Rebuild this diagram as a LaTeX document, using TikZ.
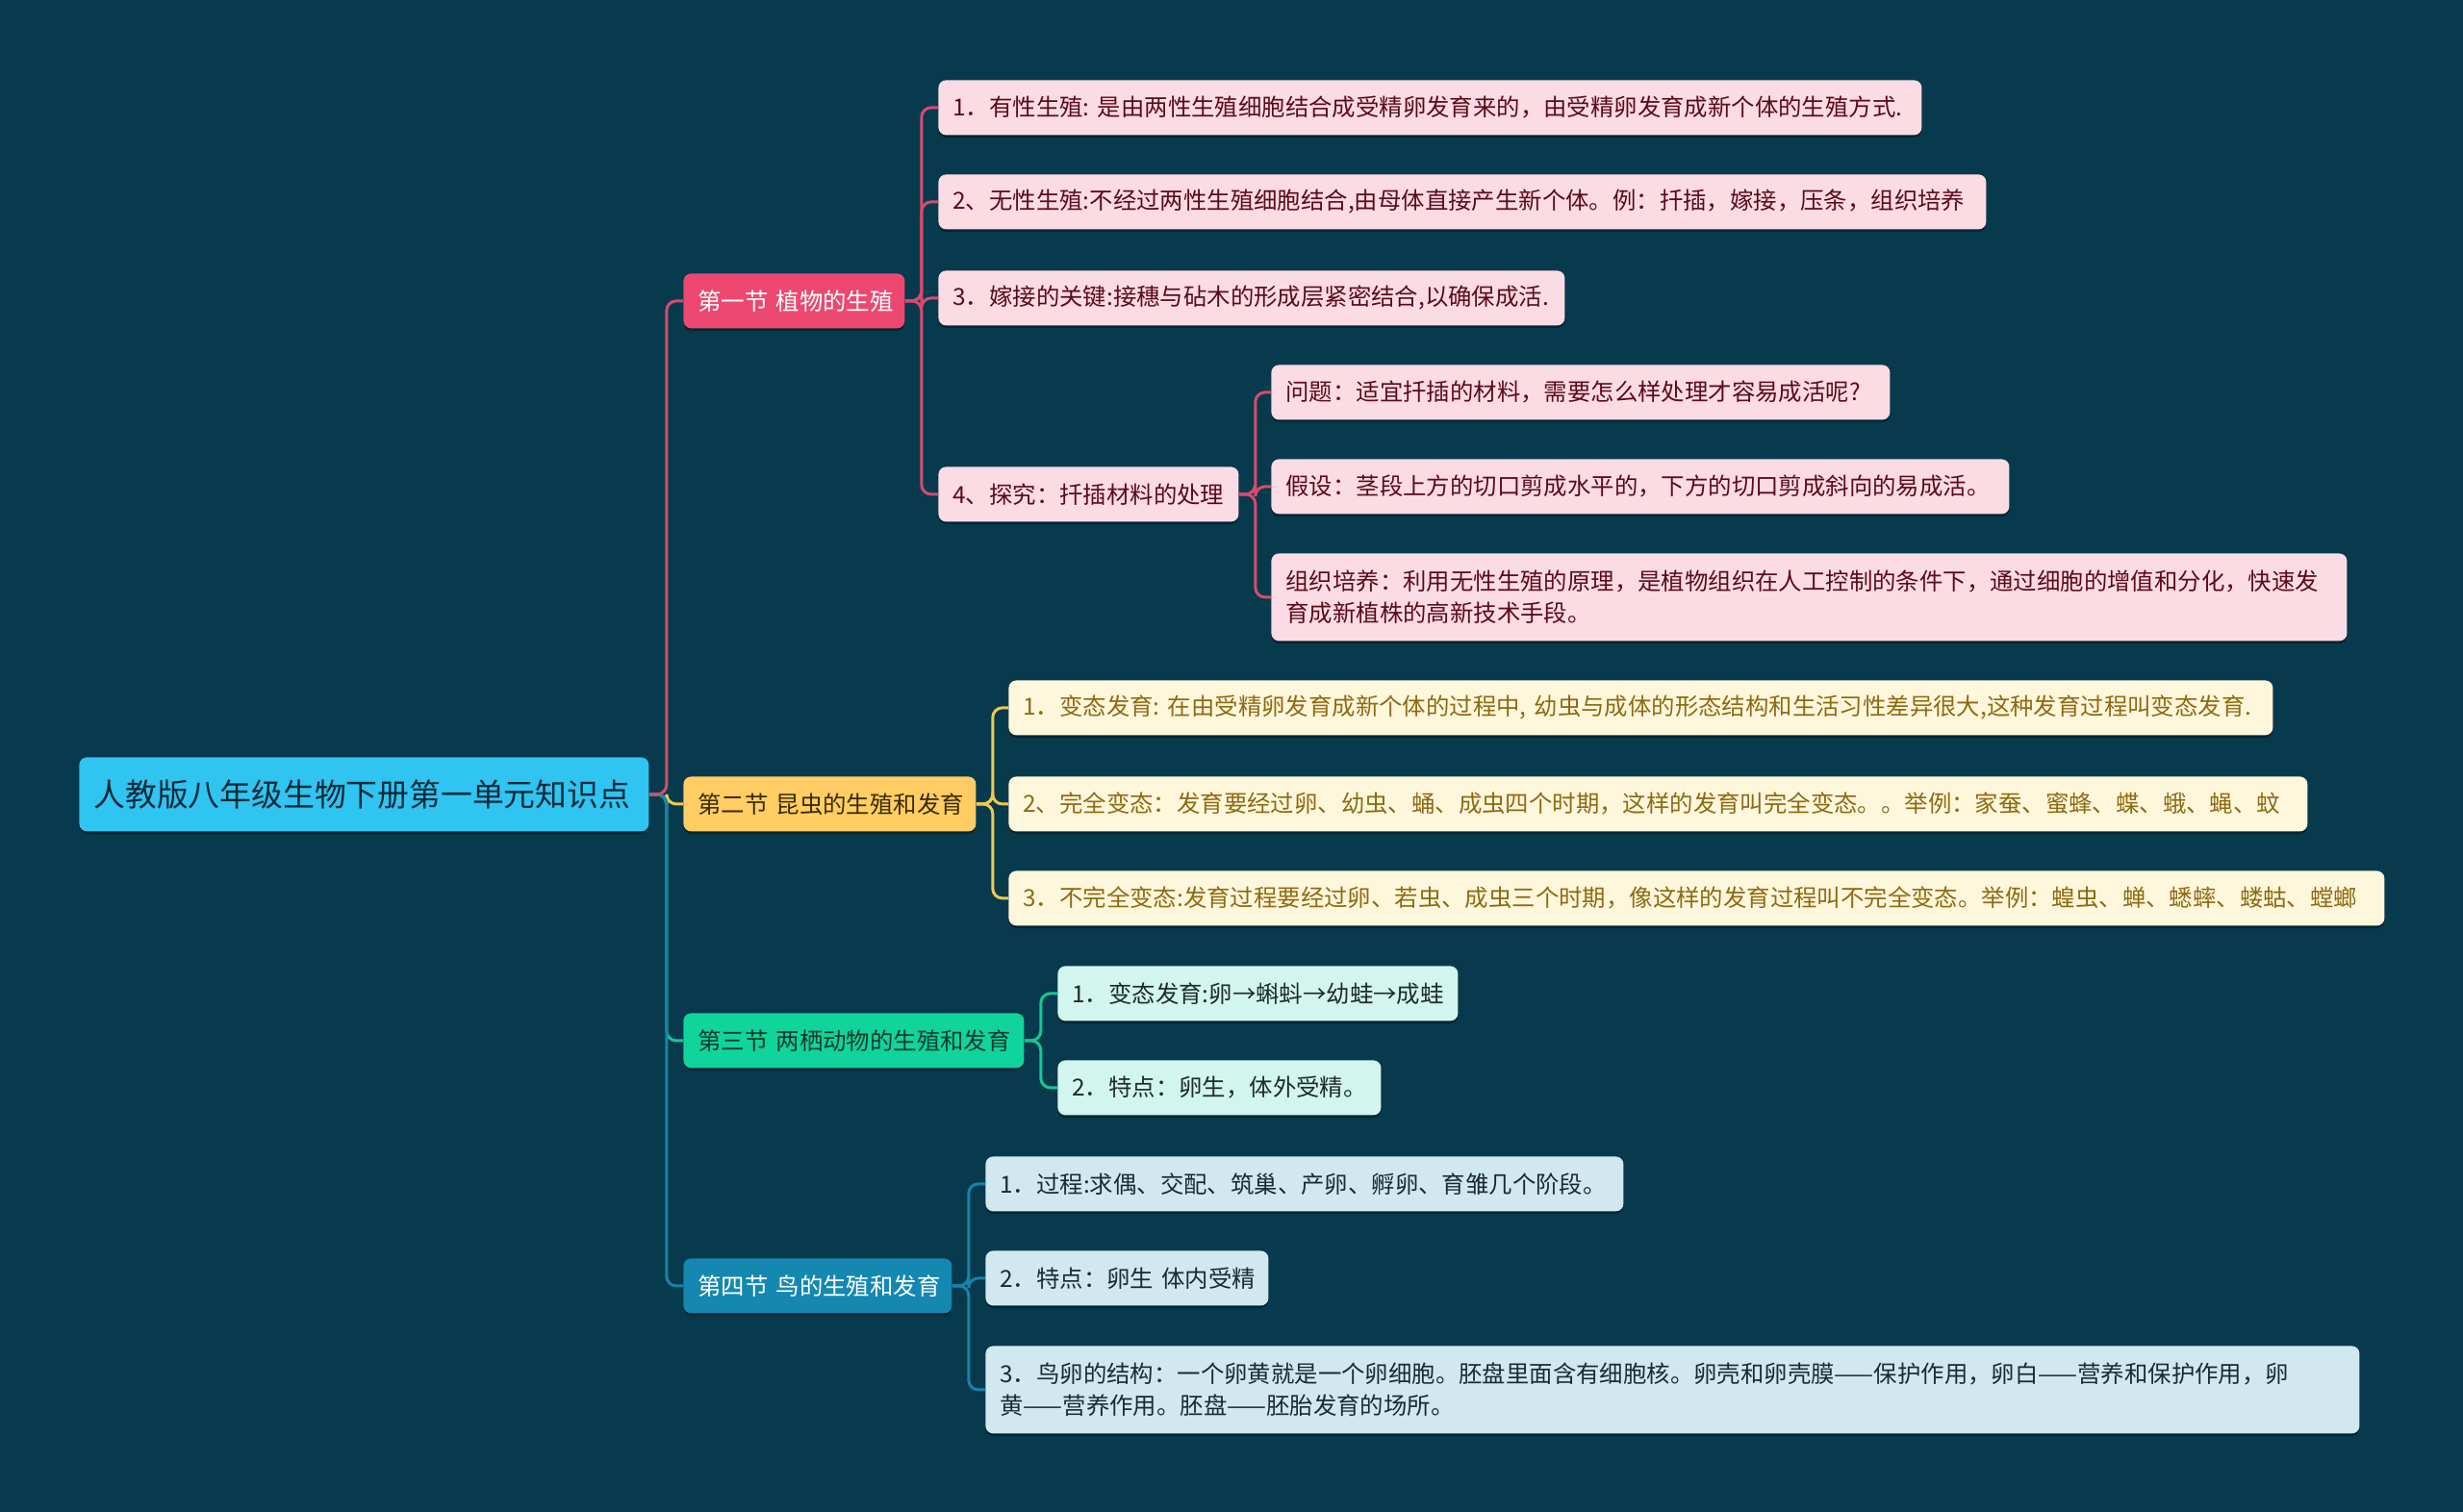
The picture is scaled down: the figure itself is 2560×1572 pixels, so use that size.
\documentclass[tikz,border=0pt]{standalone}
\usepackage{fontspec}
\setmainfont{Noto Sans CJK SC}
\usetikzlibrary{shadows}
\definecolor{bg}{HTML}{083A4E}
\definecolor{rootfill}{HTML}{30C4F0}
\definecolor{roottext}{HTML}{0C2A3A}
\definecolor{pinkA}{HTML}{EC4870}
\definecolor{pinkB}{HTML}{FBDCE4}
\definecolor{pinkT}{HTML}{5C0A1A}
\definecolor{pinkL}{HTML}{D84A6E}
\definecolor{yelA}{HTML}{FFCD64}
\definecolor{yelB}{HTML}{FEF7DC}
\definecolor{yelT}{HTML}{8E6A12}
\definecolor{yelL}{HTML}{F0C850}
\definecolor{yelAT}{HTML}{3B2A00}
\definecolor{grnA}{HTML}{10D49B}
\definecolor{grnB}{HTML}{D2F5ED}
\definecolor{grnT}{HTML}{1E2B2A}
\definecolor{grnL}{HTML}{14C896}
\definecolor{grnAT}{HTML}{0F3A2C}
\definecolor{bluA}{HTML}{1488B0}
\definecolor{bluB}{HTML}{D2E8F0}
\definecolor{bluT}{HTML}{1B2A33}
\definecolor{bluL}{HTML}{1882AA}
\newcommand\bx[7]{\node[#6, minimum width={#4*0.5pt}, minimum height={#5*0.5pt}, text width={(#4-30)*0.5pt}, anchor=north west] (#1) at (#2,#3) {#7};}
\begin{document}
\begin{tikzpicture}[x=0.5pt,y=-0.5pt,
  box/.style={rounded corners=4pt, inner xsep=7.5pt, inner ysep=2pt, align=left,
     font=\fontsize{12.2pt}{16.3pt}\selectfont,
     drop shadow={shadow xshift=0pt,shadow yshift=-1.3pt,opacity=0.35,fill=black}},
  rootbox/.style={box, fill=rootfill, text=roottext, font=\fontsize{16.4pt}{20pt}\selectfont},
  secP/.style={box, fill=pinkA, text=white},
  subP/.style={box, fill=pinkB, text=pinkT},
  secY/.style={box, fill=yelA, text=yelAT},
  subY/.style={box, fill=yelB, text=yelT},
  secG/.style={box, fill=grnA, text=grnAT},
  subG/.style={box, fill=grnB, text=grnT},
  secB/.style={box, fill=bluA, text=white},
  subB/.style={box, fill=bluB, text=bluT},
  conn/.style={line width=1.5pt, rounded corners=5pt}
]
\fill[bg] (0,0) rectangle (2560,1572);
\useasboundingbox (0,0) rectangle (2560,1572);

% root and sections
\bx{root}{82}{787}{592}{77}{rootbox}{人教版八年级生物下册第一单元知识点}
\bx{s1}{710}{284}{230}{57}{secP}{第一节~植物的生殖}
\bx{s2}{710}{807}{304}{57}{secY}{第二节~昆虫的生殖和发育}
\bx{s3}{710}{1053}{354}{57}{secG}{第三节~两栖动物的生殖和发育}
\bx{s4}{710}{1308}{279}{57}{secB}{第四节~鸟的生殖和发育}

% section 1
\bx{c11}{975}{83}{1022}{57}{subP}{1．有性生殖:~是由两性生殖细胞结合成受精卵发育来的，由受精卵发育成新个体的生殖方式.}
\bx{c12}{975}{181}{1089}{57}{subP}{2、无性生殖:不经过两性生殖细胞结合,由母体直接产生新个体。例：扦插，嫁接，压条，组织培养}
\bx{c13}{975}{281}{651}{57}{subP}{3．嫁接的关键:接穗与砧木的形成层紧密结合,以确保成活.}
\bx{c14}{975}{485}{312}{57}{subP}{4、探究：扦插材料的处理}
\bx{c141}{1321}{379}{643}{57}{subP}{问题：适宜扦插的材料，需要怎么样处理才容易成活呢?}
\bx{c142}{1321}{477}{767}{57}{subP}{假设：茎段上方的切口剪成水平的，下方的切口剪成斜向的易成活。}
\bx{c143}{1321}{575}{1118}{91}{subP}{组织培养：利用无性生殖的原理，是植物组织在人工控制的条件下，通过细胞的增值和分化，快速发\\育成新植株的高新技术手段。}

% section 2
\bx{c21}{1048}{707}{1314}{57}{subY}{1．变态发育:~在由受精卵发育成新个体的过程中,~幼虫与成体的形态结构和生活习性差异很大,这种发育过程叫变态发育.}
\bx{c22}{1048}{807}{1350}{57}{subY}{2、完全变态：发育要经过卵、幼虫、蛹、成虫四个时期，这样的发育叫完全变态。。举例：家蚕、蜜蜂、蝶、蛾、蝇、蚊}
\bx{c23}{1048}{905}{1430}{57}{subY}{3．不完全变态:发育过程要经过卵、若虫、成虫三个时期，像这样的发育过程叫不完全变态。举例：蝗虫、蝉、蟋蟀、蝼蛄、螳螂}

% section 3
\bx{c31}{1099}{1004}{416}{57}{subG}{1．变态发育:卵→蝌蚪→幼蛙→成蛙}
\bx{c32}{1099}{1102}{336}{57}{subG}{2．特点：卵生，体外受精。}

% section 4
\bx{c41}{1024}{1202}{663}{57}{subB}{1．过程:求偶、交配、筑巢、产卵、孵卵、育雏几个阶段。}
\bx{c42}{1024}{1300}{294}{57}{subB}{2．特点：卵生~体内受精}
\bx{c43}{1024}{1399}{1428}{91}{subB}{3．鸟卵的结构：一个卵黄就是一个卵细胞。胚盘里面含有细胞核。卵壳和卵壳膜——保护作用，卵白——营养和保护作用，卵\\黄——营养作用。胚盘——胚胎发育的场所。}

% root connectors
\draw[conn, yelL] (root.east) -- ++(18,0) |- (s2.west);
\draw[conn, grnL] (root.east) -- ++(18,0) |- (s3.west);
\draw[conn, bluL] (root.east) -- ++(18,0) |- (s4.west);
\draw[conn, pinkL] (root.east) -- ++(18,0) |- (s1.west);

% section 1 connectors
\foreach \c in {c11,c12,c13,c14}
  \draw[conn, pinkL] (s1.east) -- ++(17,0) |- (\c.west);
\foreach \c in {c141,c142,c143}
  \draw[conn, pinkL] (c14.east) -- ++(17,0) |- (\c.west);
% section 2
\foreach \c in {c21,c22,c23}
  \draw[conn, yelL] (s2.east) -- ++(17,0) |- (\c.west);
% section 3
\foreach \c in {c31,c32}
  \draw[conn, grnL] (s3.east) -- ++(17,0) |- (\c.west);
% section 4
\foreach \c in {c41,c42,c43}
  \draw[conn, bluL] (s4.east) -- ++(17,0) |- (\c.west);
\end{tikzpicture}
\end{document}
